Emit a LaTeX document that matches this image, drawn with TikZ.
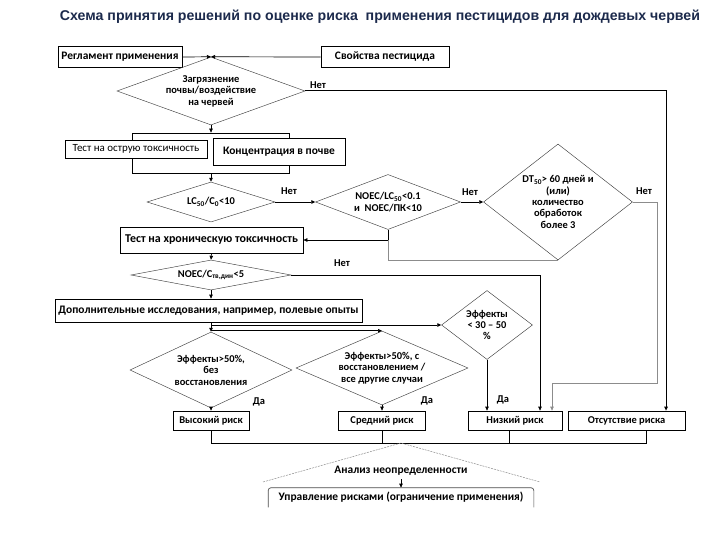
\documentclass[tikz,border=0pt]{standalone}
\usepackage{fontspec}
\setmainfont{Carlito}
\newfontfamily\titlefont{Liberation Sans}
\usetikzlibrary{arrows.meta, shapes.geometric}
\definecolor{titleblue}{HTML}{1C2A4C}

\begin{document}
\begin{tikzpicture}[%
        x = 1bp,
        y = -1bp,
        line width = 0.7bp,
        > = {Triangle[length = 4bp, width = 3.5bp]},
        font = \bfseries\fontsize{10.5}{11.5}\selectfont,
        box/.style = {draw, fill = white, inner sep = 1bp},
        bigtext/.style = {font = \bfseries\fontsize{11.5}{13}\selectfont},
        decision/.style = {diamond, draw = black!75, line width = 0.45bp,
            inner sep = 0pt, align = center},
        faint/.style = {draw = black!45}
    ]

        % Page and heading.
        \useasboundingbox[fill = white] (0, 0) rectangle (720, 540);
        \node (title) at (380, 17) [font = \titlefont\bfseries\fontsize{14.2}{16}\selectfont,
            text = titleblue] {Схема принятия решений по оценке риска\ \ применения пестицидов для дождевых червей};

        % Input data and the first check.
        \node (reg) at (120, 57) [box, bigtext, minimum width = 124bp, minimum height = 21bp] {Регламент применения};
        \node (prop) at (385, 57) [box, bigtext, minimum width = 128bp, minimum height = 21bp] {Свойства пестицида};
        \node (d1) at (211, 91) [decision, minimum width = 188bp, minimum height = 68bp, aspect = 2.76]
            {Загрязнение\\почвы/воздействие\\на червей};

        % Acute test, grouped with the soil concentration.
        \node (grp) at (211, 153) [draw, minimum width = 157bp, minimum height = 40bp] {};
        \node (acute) at (136, 149) [box, minimum width = 142bp, minimum height = 18bp,
            font = \fontsize{11}{12}\selectfont] {Тест на острую токсичность};
        \node (conc) at (279, 151.5) [box, bigtext, minimum width = 132bp, minimum height = 27bp] {Концентрация в почве};

        % Row of acute checks.
        \node (d2) at (211, 202) [decision, minimum width = 128bp, minimum height = 40bp, aspect = 3.2]
            {LC\textsubscript{50}/C\textsubscript{0}<10};
        \node (d3) at (388, 202) [decision, minimum width = 145bp, minimum height = 55bp, aspect = 2.64]
            {NOEC/LC\textsubscript{50}<0.1\\и\ \ NOEC/ПК<10};
        \node (d4) at (558, 202) [decision, minimum width = 149bp, minimum height = 116bp, aspect = 1.28]
            {DT\textsubscript{50}> 60 дней и\\(или)\\количество\\обработок\\более 3};

        % Chronic test and field work.
        \node (chronic) at (211.5, 240) [box, minimum width = 183bp, minimum height = 26bp,
            font = \bfseries\fontsize{12}{13}\selectfont] {Тест на хроническую токсичность};
        \node (d5) at (211, 275) [decision, minimum width = 160bp, minimum height = 30bp, aspect = 5.33]
            {NOEC/C\textsubscript{тв,дин}<5};
        \node (extra) at (208.5, 310.5) [box, bigtext, minimum width = 307bp, minimum height = 23bp]
            {Дополнительные исследования, например, полевые опыты};

        % Effect checks.
        \node (d6) at (211, 370) [decision, minimum width = 162bp, minimum height = 76bp, aspect = 2.13]
            {Эффекты>50\%,\\без\\восстановления};
        \node (d7) at (382, 368) [decision, minimum width = 172bp, minimum height = 74bp, aspect = 2.32]
            {Эффекты>50\%, с\\восстановлением /\\все другие случаи};
        \node (d8) at (487, 325) [decision, minimum width = 91bp, minimum height = 69bp, aspect = 1.32]
            {Эффекты\\< 30 – 50\\\%};

        % Risk classes.
        \node (high) at (211, 420.5) [box, minimum width = 76bp, minimum height = 19bp] {Высокий риск};
        \node (mid) at (382, 420.5) [box, minimum width = 87bp, minimum height = 19bp] {Средний риск};
        \node (low) at (515, 420.5) [box, minimum width = 94bp, minimum height = 19bp] {Низкий риск};
        \node (none) at (626.5, 420.5) [box, minimum width = 117bp, minimum height = 19bp] {Отсутствие риска};

        % Uncertainty and management.
        \node (unc) at (401, 471) [bigtext] {Анализ неопределенности};
        \node (mgmt) at (401, 497.5) [bigtext, minimum width = 265bp, minimum height = 19bp]
            {Управление рисками (ограничение применения)};

        % Answer labels.
        \node (n1) at (318, 85) {Нет};
        \node (n2) at (289, 191) {Нет};
        \node (n3) at (470, 192) {Нет};
        \node (n4) at (644, 191) {Нет};
        \node (n5) at (342, 263) {Нет};
        \node (y1) at (259, 402) {Да};
        \node (y2) at (427, 401) {Да};
        \node (y3) at (503, 400) {Да};

        % Connectors.
        \coordinate (bend) at (657, 383);
        \coordinate (split) at (211, 325);
        \coordinate (bus) at (401, 443);
        \coordinate (lowOut) at ([xshift = -6bp] low.south);
        \coordinate (noneOut) at ([xshift = 20bp] none.south);
        \coordinate (uncL) at (263, 482);
        \coordinate (uncR) at (540, 482);

        \draw[->] (reg.east) -- (d1.north);
        \draw[->] (prop.west) -- (d1.north);
        \draw[->, line width = 1bp] (d1.east) -| ([xshift = 39.5bp] none.north);
        \draw[->] (d1.south) -- (grp.north);
        \draw[->] (grp.south) -- (d2.north);
        \draw[->] (d2.east) -- (d3.west);
        \draw[->] (d3.east) -- (d4.west);
        \draw[->, faint] (d4.east) -| (bend) -| ([xshift = 37bp] low.north);
        \draw[->] (d3.south) |- (chronic.east);
        \draw[faint] (d4.south) -| (d3.south |- chronic.east);
        \draw[->] (chronic.south) -- (d5.north);
        \draw[->] (d5.east) -| ([xshift = 25bp] low.north);
        \draw[->] (d5.south) -- (d5.south |- extra.north);
        \draw[->] (split |- extra.south) -- (d6.north);
        \draw[->] (split) -- (d8.west);
        \draw[->] (split |- d7.north) -- (d7.north);
        \draw[->] (d6.south) -- (high.north);
        \draw[->] (d7.south) -- (mid.north);
        \draw[->] (d8.south) -- (d8.south |- low.north);

        % Collect the risk classes.
        \draw (high.south) |- (noneOut |- bus) -- (noneOut);
        \draw (mid.south) -- (mid.south |- bus);
        \draw (lowOut) -- (lowOut |- bus);
        \draw[faint, line width = 0.5bp, dash pattern = on 2bp off 1bp] (uncL) -- (bus) -- (uncR);
        \draw[->] (unc.south) -- (mgmt.north);
        \draw[black!70, rounded corners = 3bp] (mgmt.south west) |- (mgmt.north east) -- (mgmt.south east);
    \end{tikzpicture}
\end{document}
